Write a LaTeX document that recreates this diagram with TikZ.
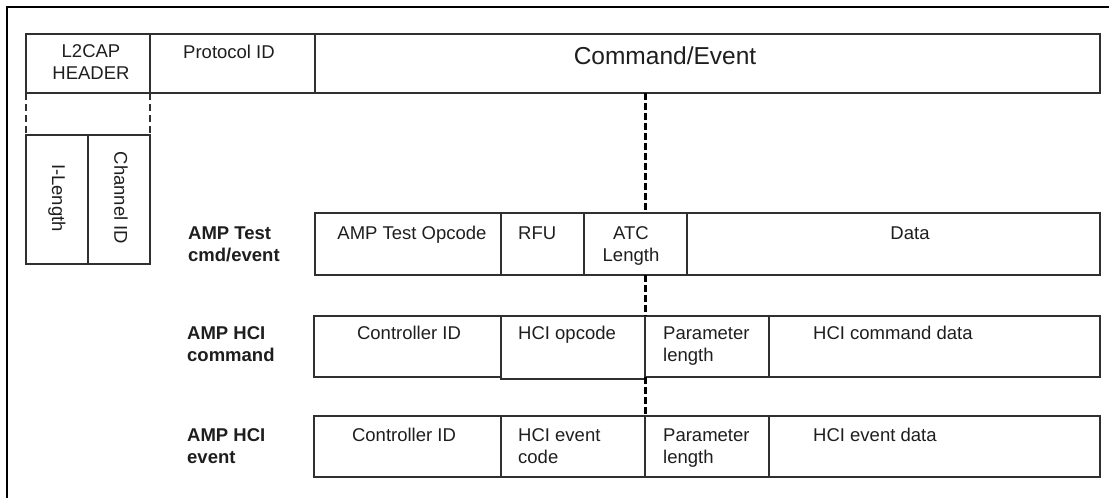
\documentclass[tikz,border=0pt]{standalone}
\usepackage{fontspec}
\setmainfont{Liberation Sans}
\usetikzlibrary{calc}
\definecolor{ink}{HTML}{1E1E1E}
\definecolor{boxline}{HTML}{303030}
\begin{document}
\begin{tikzpicture}[x=1pt,y=-1pt,
  cell/.style={draw=boxline,line width=1.3pt,inner sep=0pt,outer sep=0pt,anchor=north west},
  txt/.style={inner sep=0pt,text=ink,font=\fontsize{18.5}{22}\selectfont},
  lbl/.style={inner sep=0pt,text=ink,font=\fontsize{18.5}{21.5}\selectfont\bfseries,align=left,anchor=base west},
  dashv/.style={draw=black,line width=3pt,dash pattern=on 6.5pt off 3.5pt},
  dashs/.style={draw=boxline,line width=1.7pt,dash pattern=on 7pt off 4pt}]
\useasboundingbox (0,0) rectangle (1109,498);
% outer frame (left and top edges)
\draw[line width=2.6pt] (7,498) -- (7,7) -- (1109,7);
% top row
\node[cell,minimum width=124pt,minimum height=59pt] (l2cap) at (26,34) {};
\node[cell,minimum width=165pt,minimum height=59pt] (protid) at (150,34) {};
\node[cell,minimum width=785pt,minimum height=59pt] (cmdevt) at (315,34) {};
% L2CAP header fields
\node[cell,minimum width=62pt,minimum height=129pt] (ilen) at (26,135) {};
\node[cell,minimum width=62pt,minimum height=129pt] (chan) at (88,135) {};
\draw[dashs] (l2cap.south west) -- (ilen.north west);
\draw[dashs] (l2cap.south east) -- (chan.north east);
% AMP Test row
\node[cell,minimum width=186pt,minimum height=62pt] (topc) at (315,213) {};
\node[cell,minimum width=83pt,minimum height=62pt] (rfu) at (501,213) {};
\node[cell,minimum width=103pt,minimum height=62pt] (atc) at (584,213) {};
\node[cell,minimum width=413pt,minimum height=62pt] (data) at (687,213) {};
% AMP HCI command row
\node[cell,minimum width=187pt,minimum height=61pt] (cctrl) at (314,316) {};
\node[cell,minimum width=144pt,minimum height=63pt] (copc) at (501,316) {};
\node[cell,minimum width=124pt,minimum height=61pt] (cplen) at (645,316) {};
\node[cell,minimum width=331pt,minimum height=61pt] (cdata) at (769,316) {};
% AMP HCI event row
\node[cell,minimum width=187pt,minimum height=61pt] (ectrl) at (314,416) {};
\node[cell,minimum width=144pt,minimum height=61pt] (ecode) at (501,416) {};
\node[cell,minimum width=124pt,minimum height=61pt] (eplen) at (645,416) {};
\node[cell,minimum width=331pt,minimum height=61pt] (edata) at (769,416) {};
% dashed mapping line
\draw[dashv] (cmdevt.south -| cplen.west) -- (atc.north -| cplen.west);
\draw[dashv] (atc.south -| cplen.west) -- (cplen.north west);
\draw[dashv] (cplen.south west) -- (eplen.north west);
% texts
\node[txt,align=center,anchor=base] (tl2cap) at (91,79.5) {L2CAP\\HEADER};
\node[txt,anchor=base] (tprot) at (229,58.5) {Protocol ID};
\node[txt,anchor=base,font=\fontsize{24.5}{28}\selectfont] (tcmd) at (665,64.5) {Command/Event};
\node[txt,rotate=-90] (tilen) at (57,198) {I-Length};
\node[txt,rotate=-90] (tchan) at (121,198) {Channel ID};
\node[lbl] (ltest) at (188,261) {AMP Test\\cmd/event};
\node[lbl] (lcmd) at (187,361) {AMP HCI\\command};
\node[lbl] (levt) at (187,463) {AMP HCI\\event};
\node[txt,anchor=base] (ttopc) at (412,239.5) {AMP Test Opcode};
\node[txt,anchor=base west] (trfu) at (518,239.5) {RFU};
\node[txt,align=center,anchor=base] (tatc) at (631,261.5) {ATC\\Length};
\node[txt,anchor=base] (tdata) at (910,239.5) {Data};
\node[txt,anchor=base] (tcctrl) at (409,339.5) {Controller ID};
\node[txt,anchor=base west] (tcopc) at (518,339.5) {HCI opcode};
\node[txt,align=left,anchor=base west] (tcplen) at (663,361.5) {Parameter\\length};
\node[txt,anchor=base west] (tcdata) at (813,339.5) {HCI command data};
\node[txt,anchor=base] (tectrl) at (404,441.5) {Controller ID};
\node[txt,align=left,anchor=base west] (tecode) at (518,463.5) {HCI event\\code};
\node[txt,align=left,anchor=base west] (teplen) at (663,463.5) {Parameter\\length};
\node[txt,anchor=base west] (tedata) at (813,441.5) {HCI event data};
\end{tikzpicture}
\end{document}
